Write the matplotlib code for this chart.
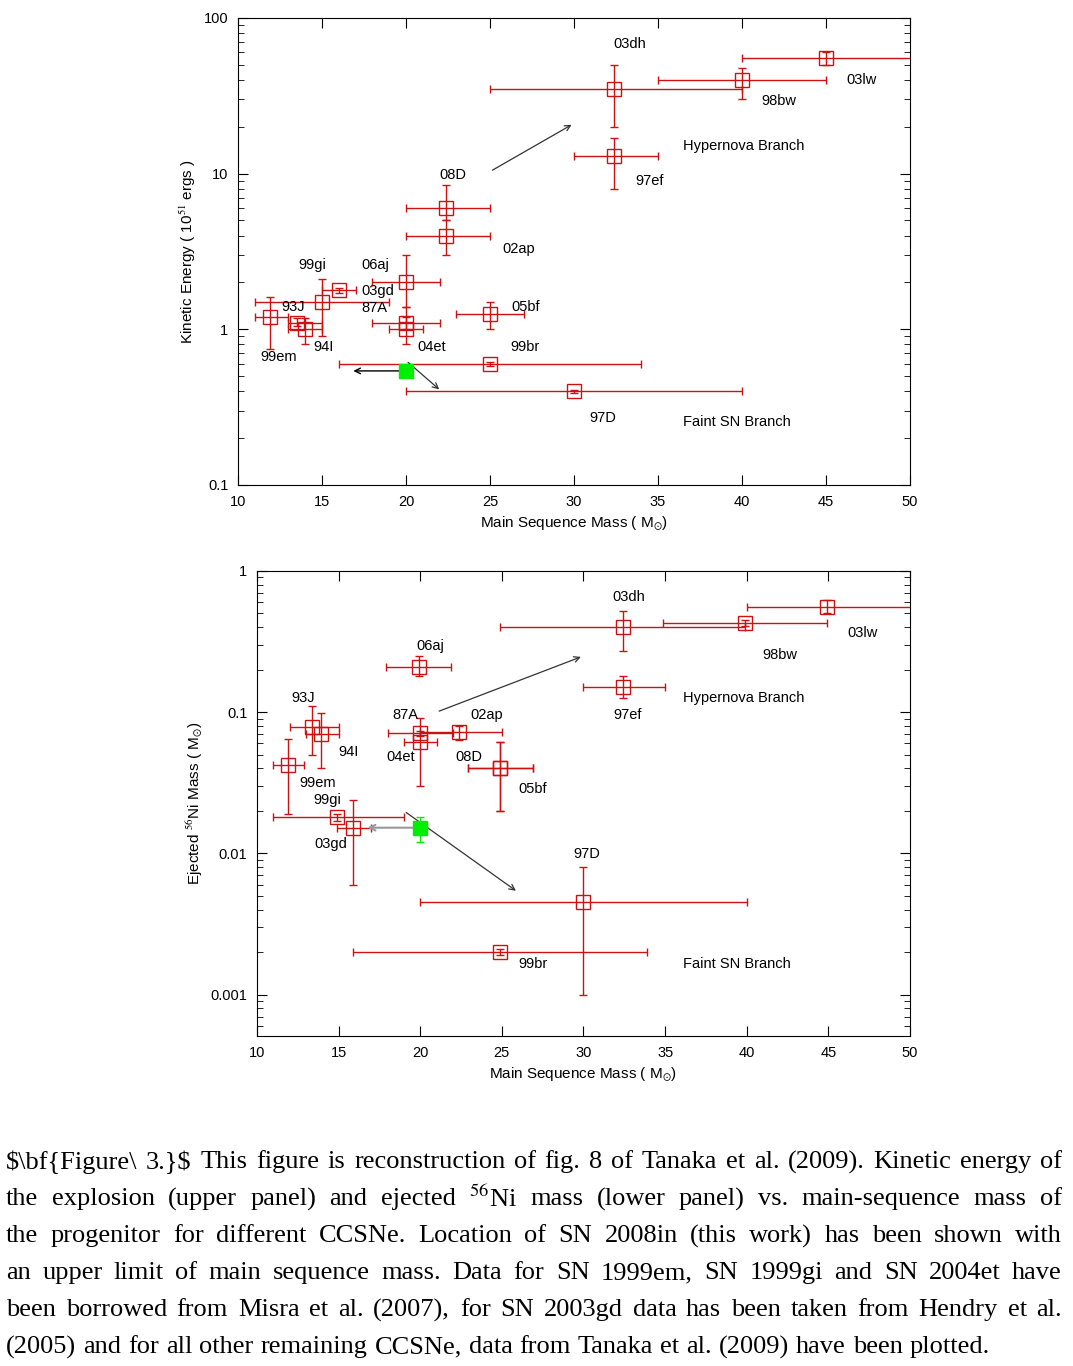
import matplotlib
matplotlib.use("Agg")
import matplotlib.pyplot as plt
import numpy as np
from matplotlib.ticker import FixedLocator, NullFormatter, LogLocator

plt.rcParams['font.family'] = ['Liberation Sans', 'DejaVu Sans']
plt.rcParams['mathtext.fontset'] = 'stix'
RED = '#cc1111'

# ---------- upper panel: kinetic energy ----------
ke_names = ['03dh', '98bw', '03lw', '97ef', '08D', '02ap', '06aj', '87A', '04et', '99gi', '03gd', '99em', '93J', '94I', '05bf', '99br', '97D']
ke_mass  = [32.4, 40, 45, 32.4, 22.4, 22.4, 20, 20, 20, 15, 16, 11.9, 13.5, 14, 25, 25, 30]
ke_mlo   = [25, 35, 40, 30, 20, 20, 18, 18, 19, 11, 15, 11, 13, 13, 23, 16, 20]
ke_mhi   = [40, 45, 52, 35, 25, 25, 22, 22, 21, 19, 17, 13, 15, 15, 27, 34, 40]
ke_val   = [35, 40, 55, 13, 6, 4, 2, 1.1, 1.0, 1.5, 1.78, 1.2, 1.09, 1.0, 1.25, 0.6, 0.4]
ke_vlo   = [20, 30, 50, 8, 5, 3, 1.4, 1.0, 0.8, 0.9, 1.72, 0.75, 1.05, 0.8, 1.0, 0.58, 0.39]
ke_vhi   = [50, 48, 60, 17, 8.5, 5, 3, 1.2, 1.4, 2.1, 1.84, 1.6, 1.18, 1.18, 1.5, 0.62, 0.41]
ke_08in  = (20, 0.54)
ke_lab_x = [33.3, 42.2, 47.1, 34.5, 22.8, 26.7, 18.2, 18.1, 21.5, 14.4, 18.3, 12.4, 13.3, 15.1, 27.1, 27.1, 31.7]
ke_lab_y = [68, 29.3, 40, 8.9, 9.8, 3.3, 2.6, 1.37, 0.77, 2.6, 1.75, 0.665, 1.39, 0.77, 1.39, 0.77, 0.27]

# ---------- lower panel: Ni mass ----------
ni_names = ['03dh', '98bw', '03lw', '97ef', '06aj', '87A', '02ap', '04et', '08D', '93J', '94I', '99em', '99gi', '03gd', '97D', '99br']
ni_mass  = [32.4, 39.9, 44.9, 32.4, 19.9, 20, 22.4, 20, 24.9, 13.4, 13.9, 11.9, 14.9, 15.9, 30, 24.9]
ni_mlo   = [24.9, 34.9, 40, 30, 17.9, 18, 20, 19, 22.9, 12, 13, 11, 11, 14.9, 20, 15.9]
ni_mhi   = [39.9, 44.9, 52, 35, 21.9, 22, 25, 21, 26.9, 15, 15, 12.9, 19, 17, 40, 33.9]
ni_val   = [0.40, 0.43, 0.556, 0.15, 0.21, 0.071, 0.072, 0.061, 0.040, 0.079, 0.070, 0.042, 0.018, 0.0152, 0.0045, 0.002]
ni_vlo   = [0.27, 0.41, 0.50, 0.125, 0.18, 0.068, 0.064, 0.030, 0.020, 0.050, 0.040, 0.019, 0.017, 0.006, 0.001, 0.0019]
ni_vhi   = [0.52, 0.45, 0.62, 0.18, 0.25, 0.074, 0.080, 0.091, 0.061, 0.111, 0.099, 0.065, 0.019, 0.024, 0.008, 0.0021]
ni_08in  = (20, 0.0152, 0.012, 0.018)
ni_lab_x = [32.8, 42, 47.1, 32.7, 20.6, 19.1, 24.1, 18.8, 23, 12.8, 15.6, 13.7, 14.3, 14.5, 30.2, 26.9]
ni_lab_y = [0.655, 0.255, 0.364, 0.096, 0.294, 0.096, 0.096, 0.048, 0.048, 0.126, 0.052, 0.0316, 0.024, 0.0117, 0.0099, 0.00166]
ni_05bf  = (24.9, 0.040)
ni_05bf_lab = (26.9, 0.0286)

fig = plt.figure(figsize=(10.73, 13.66), dpi=100)
ax1 = fig.add_axes([0.2218, 0.645, 0.6263, 0.3419])
ax2 = fig.add_axes([0.2395, 0.2416, 0.6086, 0.3405])


def draw(ax, m, mlo, mhi, v, vlo, vhi):
    m = np.array(m); v = np.array(v)
    xerr = [m - np.array(mlo), np.array(mhi) - m]
    yerr = [v - np.array(vlo), np.array(vhi) - v]
    ax.errorbar(m, v, xerr=xerr, yerr=yerr, fmt='s', mfc='none', mec=RED, ms=10,
                mew=1.0, color=RED, elinewidth=1.0, capsize=3, capthick=1.0, zorder=3)


def style(ax, ylim, yt, ytl):
    ax.set_yscale('log')
    ax.set_xlim(10, 50)
    ax.set_ylim(*ylim)
    ax.set_xticks(np.arange(10, 51, 5))
    ax.yaxis.set_major_locator(FixedLocator(yt))
    ax.set_yticklabels(ytl)
    ax.yaxis.set_minor_locator(LogLocator(base=10, subs=np.arange(2, 10)))
    ax.yaxis.set_minor_formatter(NullFormatter())
    ax.tick_params(which='both', direction='in', top=True, right=True, labelsize=10.5)
    ax.tick_params(which='major', length=7, pad=7)
    ax.tick_params(which='minor', length=4)
    ax.set_xlabel('Main Sequence Mass ( M$_{\\odot}$)', fontsize=11)
    for s in ax.spines.values():
        s.set_linewidth(0.8)


# upper
draw(ax1, ke_mass, ke_mlo, ke_mhi, ke_val, ke_vlo, ke_vhi)
ax1.plot([ke_08in[0]], [ke_08in[1]], 's', color='#00ee00', ms=10, zorder=4)
for n, x, y in zip(ke_names, ke_lab_x, ke_lab_y):
    ax1.text(x, y, n, ha='center', va='center', fontsize=10.5)
ax1.text(36.5, 15.1, 'Hypernova Branch', ha='left', va='center', fontsize=10.5)
ax1.text(36.5, 0.254, 'Faint SN Branch', ha='left', va='center', fontsize=10.5)
ap = dict(arrowstyle='->', color='#333333', lw=0.9)
ax1.annotate('', xy=(16.7, 0.54), xytext=(20, 0.54), arrowprops=dict(arrowstyle='->', color='black', lw=1))
ax1.annotate('', xy=(22.1, 0.40), xytext=(20, 0.63), arrowprops=ap)
ax1.annotate('', xy=(30, 21), xytext=(25, 10.3), arrowprops=ap)
style(ax1, (0.1, 100), [0.1, 1, 10, 100], ['0.1', '1', '10', '100'])
ax1.set_ylabel('Kinetic Energy ( 10$^{51}$ ergs )', fontsize=11)

# lower
draw(ax2, ni_mass, ni_mlo, ni_mhi, ni_val, ni_vlo, ni_vhi)
draw(ax2, [ni_05bf[0]], [22.9], [26.9], [ni_05bf[1]], [0.02], [0.061])
ax2.errorbar([ni_08in[0]], [ni_08in[1]], yerr=[[ni_08in[1] - ni_08in[2]], [ni_08in[3] - ni_08in[1]]],
             fmt='s', color='#00ee00', ms=10, elinewidth=0.8, capsize=3, ls=':', zorder=4)
for n, x, y in zip(ni_names, ni_lab_x, ni_lab_y):
    ax2.text(x, y, n, ha='center', va='center', fontsize=10.5)
ax2.text(*ni_05bf_lab, '05bf', ha='center', va='center', fontsize=10.5)
ax2.text(36.1, 0.126, 'Hypernova Branch', ha='left', va='center', fontsize=10.5)
ax2.text(36.1, 0.00166, 'Faint SN Branch', ha='left', va='center', fontsize=10.5)
ax2.annotate('', xy=(16.6, 0.0152), xytext=(20, 0.0152), arrowprops=dict(arrowstyle='->', color='#999999', lw=1.5))
ax2.annotate('', xy=(26, 0.0053), xytext=(19, 0.020), arrowprops=ap)
ax2.annotate('', xy=(30, 0.25), xytext=(21, 0.10), arrowprops=ap)
style(ax2, (0.00051, 1), [0.001, 0.01, 0.1, 1], ['0.001', '0.01', '0.1', '1'])
ax2.set_ylabel('Ejected $^{56}$Ni Mass ( M$_{\\odot}$)', fontsize=11)

# caption (fully justified)
lines = [
    r"$\bf{Figure\ 3.}$ This figure is reconstruction of fig. 8 of Tanaka et al. (2009). Kinetic energy of",
    r"the explosion (upper panel) and ejected $^{56}$Ni mass (lower panel) vs. main-sequence mass of",
    "the progenitor for different CCSNe. Location of SN 2008in (this work) has been shown with",
    "an upper limit of main sequence mass. Data for SN 1999em, SN 1999gi and SN 2004et have",
    "been borrowed from Misra et al. (2007), for SN 2003gd data has been taken from Hendry et al.",
    "(2005) and for all other remaining CCSNe, data from Tanaka et al. (2009) have been plotted.",
]
renderer = fig.canvas.get_renderer()
x0, x1 = 6, 1062
for i, line in enumerate(lines):
    y = 1 - (1162 + 37 * i) / 1366
    words = line.split(' ')
    texts = [fig.text(0, y, w, ha='left', va='center', fontsize=19,
                      family=['Liberation Serif', 'DejaVu Serif']) for w in words]
    widths = [t.get_window_extent(renderer).width for t in texts]
    gap = (x1 - x0 - sum(widths)) / (len(words) - 1)
    if i == len(lines) - 1:
        gap = min(gap, 7)
    pos = x0
    for t, w in zip(texts, widths):
        t.set_x(pos / 1073)
        pos += w + gap

fig.savefig('out.png', dpi=100)
